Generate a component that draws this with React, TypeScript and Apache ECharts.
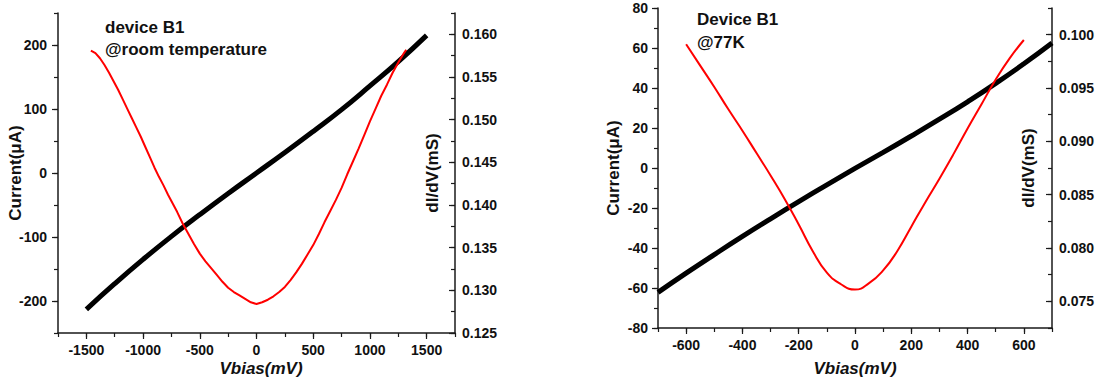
import React, { useEffect, useRef } from "react";
import * as echarts from "echarts";

// ---- Panel 1: room temperature ----
const roomCurrentV = [-1500, -1250, -1000, -750, -500, -250, 0, 250, 500, 750, 1000, 1250, 1500];
const roomCurrentI = [-213, -173, -135, -99, -65, -32, 0, 32, 65, 99, 136, 174, 215];

const roomCondV = [
  -1460, -1420, -1380, -1340, -1300, -1260, -1220, -1180, -1140, -1100, -1060, -1020, -980, -940,
  -900, -860, -820, -780, -740, -700, -650, -600, -550, -500, -450, -400, -350, -300, -250, -200,
  -150, -100, -50, 0, 50, 100, 150, 200, 250, 300, 350, 400, 450, 500, 550, 600, 650, 700, 750,
  800, 850, 900, 950, 1000, 1050, 1100, 1150, 1200, 1250, 1300, 1320,
];
const roomCondG = [
  0.1581, 0.1578, 0.1572, 0.1564, 0.1555, 0.1545, 0.1535, 0.1524, 0.1513, 0.1502, 0.1491, 0.148,
  0.1468, 0.1456, 0.1444, 0.1433, 0.1423, 0.1412, 0.1402, 0.1392, 0.1378, 0.1366, 0.1354, 0.1343,
  0.1334, 0.1326, 0.1318, 0.131, 0.1303, 0.1298, 0.1294, 0.129, 0.1286, 0.1284, 0.1286, 0.1289,
  0.1293, 0.1298, 0.1304, 0.1312, 0.1321, 0.1331, 0.1342, 0.1353, 0.1366, 0.138, 0.1393, 0.1406,
  0.142, 0.1436, 0.1451, 0.1466, 0.1482, 0.1498, 0.1513, 0.1528, 0.1541, 0.1555, 0.1567, 0.1578,
  0.1582,
];

// ---- Panel 2: 77K ----
const coldCurrentV = [-700, -600, -500, -400, -300, -200, -100, 0, 100, 200, 300, 400, 500, 600, 700];
const coldCurrentI = [-62.2, -52.6, -43.3, -34.2, -25.4, -16.8, -8.4, -0.2, 7.8, 16, 24.4, 33.1, 42.3, 52.1, 62.5];

const coldCondV = [
  -600, -550, -500, -450, -400, -350, -300, -250, -200, -150, -100, -50, 0, 50, 100, 150, 200, 250,
  300, 350, 400, 450, 500, 550, 600,
];
const coldCondG = [
  0.0991, 0.0971, 0.0951, 0.093, 0.091, 0.0889, 0.0868, 0.0846, 0.0822, 0.0797, 0.0777, 0.0766,
  0.0761, 0.0767, 0.0779, 0.0797, 0.082, 0.0843, 0.0865, 0.0888, 0.0912, 0.0935, 0.0958, 0.0978,
  0.0995,
];

// tick labels
const roomXTicks = [-1500, -1000, -500, 0, 500, 1000, 1500];
const roomYTicks = [-200, -100, 0, 100, 200];
const roomGTicks = [0.125, 0.13, 0.135, 0.14, 0.145, 0.15, 0.155, 0.16];
const coldXTicks = [-600, -400, -200, 0, 200, 400, 600];
const coldYTicks = [-80, -60, -40, -20, 0, 20, 40, 60, 80];
const coldGTicks = [0.075, 0.08, 0.085, 0.09, 0.095, 0.1];

const FONT = "'Liberation Sans', Arial, sans-serif";
const AX = "#1a1a1a";

function pairs(xs: number[], ys: number[]) {
  return xs.map((x, i) => [x, ys[i]]);
}

function near(v: number, list: number[]) {
  return list.some((t) => Math.abs(t - v) < 1e-7);
}

function mainAxis(
  grid: number,
  position: string,
  min: number,
  max: number,
  interval: number,
  majors: number[],
  inside: boolean,
  margin: number,
  digits: number
) {
  return {
    type: "value",
    gridIndex: grid,
    position,
    min,
    max,
    interval,
    axisLine: { show: true, onZero: false, lineStyle: { color: AX, width: 1.5 } },
    axisTick: { show: true, inside, length: 4, lineStyle: { color: AX, width: 1.2 } },
    axisLabel: {
      show: true,
      margin,
      color: "#111",
      fontFamily: FONT,
      fontWeight: "bold",
      fontSize: 14,
      formatter: (v: number) => (near(v, majors) ? v.toFixed(digits) : ""),
    },
    splitLine: { show: false },
  } as any;
}

function overlayAxis(
  grid: number,
  position: string,
  min: number,
  max: number,
  majors: number[],
  inside: boolean
) {
  return {
    type: "value",
    gridIndex: grid,
    position,
    min,
    max,
    axisLine: { show: false, onZero: false },
    axisTick: {
      show: true,
      inside,
      length: 6,
      customValues: majors,
      lineStyle: { color: AX, width: 1.2 },
    },
    axisLabel: { show: false },
    splitLine: { show: false },
  } as any;
}

function txt(text: string, x: number, y: number, opts: any = {}) {
  return {
    type: "text",
    x,
    y,
    rotation: opts.rotate ? Math.PI / 2 : 0,
    style: {
      text,
      fill: "#111",
      font: `${opts.italic ? "italic " : ""}bold 17px ${FONT}`,
      align: opts.align || "center",
      verticalAlign: "middle",
    },
  };
}

export default function App() {
  const ref = useRef<HTMLDivElement>(null);
  useEffect(() => {
    if (!ref.current) return;
    const chart = echarts.init(ref.current, undefined, { renderer: "svg" });
    chart.setOption({
      animation: false,
      backgroundColor: "#fff",
      grid: [
        { left: 58, top: 13, width: 397, height: 320, containLabel: false },
        { left: 658, top: 8, width: 394, height: 320, containLabel: false },
      ],
      xAxis: [
        mainAxis(0, "bottom", -1750, 1750, 250, roomXTicks, false, 10, 0),
        overlayAxis(0, "bottom", -1750, 1750, roomXTicks, false),
        mainAxis(1, "bottom", -700, 700, 100, coldXTicks, false, 10, 0),
        overlayAxis(1, "bottom", -700, 700, coldXTicks, false),
      ],
      yAxis: [
        mainAxis(0, "left", -250, 250, 50, roomYTicks, false, 11, 0),
        overlayAxis(0, "left", -250, 250, roomYTicks, false),
        mainAxis(0, "right", 0.125, 0.1625, 0.0025, roomGTicks, true, 7, 3),
        overlayAxis(0, "right", 0.125, 0.1625, roomGTicks, true),
        mainAxis(1, "left", -80, 80, 10, coldYTicks, false, 10, 0),
        overlayAxis(1, "left", -80, 80, coldYTicks, false),
        mainAxis(1, "right", 0.0725, 0.1025, 0.0025, coldGTicks, true, 7, 3),
        overlayAxis(1, "right", 0.0725, 0.1025, coldGTicks, true),
      ],
      series: [
        {
          type: "line",
          xAxisIndex: 0,
          yAxisIndex: 0,
          data: pairs(roomCurrentV, roomCurrentI),
          smooth: true,
          showSymbol: false,
          symbol: "none",
          lineStyle: { color: "#000", width: 5 },
        },
        {
          type: "line",
          xAxisIndex: 0,
          yAxisIndex: 2,
          data: pairs(roomCondV, roomCondG),
          showSymbol: false,
          symbol: "none",
          lineStyle: { color: "#ff0000", width: 2 },
        },
        {
          type: "line",
          xAxisIndex: 2,
          yAxisIndex: 4,
          data: pairs(coldCurrentV, coldCurrentI),
          smooth: true,
          showSymbol: false,
          symbol: "none",
          lineStyle: { color: "#000", width: 5 },
        },
        {
          type: "line",
          xAxisIndex: 2,
          yAxisIndex: 6,
          data: pairs(coldCondV, coldCondG),
          smooth: true,
          showSymbol: false,
          symbol: "none",
          lineStyle: { color: "#ff0000", width: 2 },
        },
      ],
      graphic: [
        txt("Current(μA)", 15, 173, { rotate: true }),
        txt("dI/dV(mS)", 432, 173, { rotate: true }),
        txt("Vbias(mV)", 261, 368, { italic: true }),
        txt("device B1", 105, 27, { align: "left" }),
        txt("@room temperature", 105, 49, { align: "left" }),
        txt("Current(μA)", 613, 168, { rotate: true }),
        txt("dI/dV(mS)", 1028, 168, { rotate: true }),
        txt("Vbias(mV)", 855, 368, { italic: true }),
        txt("Device B1", 697, 19, { align: "left" }),
        txt("@77K", 697, 42, { align: "left" }),
      ],
    });
    return () => chart.dispose();
  }, []);
  return (
    <div
      ref={ref}
      style={{ position: "fixed", left: 0, top: 0, width: 1107, height: 381, background: "#fff" }}
    />
  );
}
